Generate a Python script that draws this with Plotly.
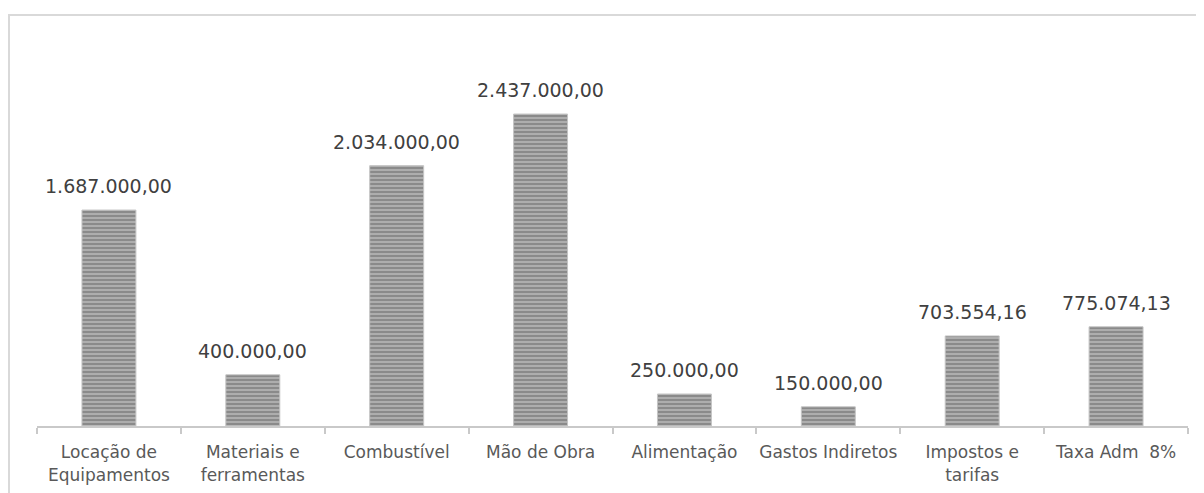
import plotly.graph_objects as go

categories = ["Locação de<br>Equipamentos", "Materiais e<br>ferramentas", "Combustível",
              "Mão de Obra", "Alimentação", "Gastos Indiretos", "Impostos e<br>tarifas", "Taxa Adm  8%"]
values = [1687000.00, 400000.00, 2034000.00, 2437000.00, 250000.00, 150000.00, 703554.16, 775074.13]


def fmt_br(v):
    s = f"{v:,.2f}"
    return s.replace(",", "X").replace(".", ",").replace("X", ".")


labels = [fmt_br(v) for v in values]

FONT = "DejaVu Sans, Verdana, sans-serif"

fig = go.Figure(go.Bar(
    x=categories, y=values,
    marker=dict(
        color="#8a8a8a",
        line=dict(color="#c4c4c4", width=1),
        pattern=dict(shape="-", fgcolor="#555555", bgcolor="#adadad", size=4, solidity=0.4),
    ),
))

for c, v, t in zip(categories, values, labels):
    fig.add_annotation(x=c, y=v, text=t, showarrow=False, yanchor="bottom", yshift=11,
                       font=dict(family=FONT, size=19, color="#404040"))

# page body has an 8px margin, so margins are reduced accordingly
fig.update_layout(
    width=1204, height=493,
    margin=dict(l=29, r=24, t=34, b=75, autoexpand=False),
    paper_bgcolor="white", plot_bgcolor="white",
    font=dict(family=FONT, color="#595959"),
    bargap=0.625,
    showlegend=False,
    xaxis=dict(
        automargin=False,
        showline=True, linecolor="#c9c9c9", linewidth=2,
        ticks="outside", tickson="boundaries", ticklen=6, tickcolor="#c9c9c9", tickwidth=2,
        tickfont=dict(family=FONT, size=17, color="#595959"),
        tickangle=0,
        ticklabelstandoff=10,
        showgrid=False,
    ),
    yaxis=dict(range=[0, 3000000], visible=False, showgrid=False, automargin=False),
    shapes=[dict(type="rect", xref="paper", yref="paper",
                 x0=-28 / 1151, x1=1.2, y0=-0.5, y1=1 + 27 / 384,
                 line=dict(color="#d9d9d9", width=2), layer="below")],
)

fig.write_html("out.html")
